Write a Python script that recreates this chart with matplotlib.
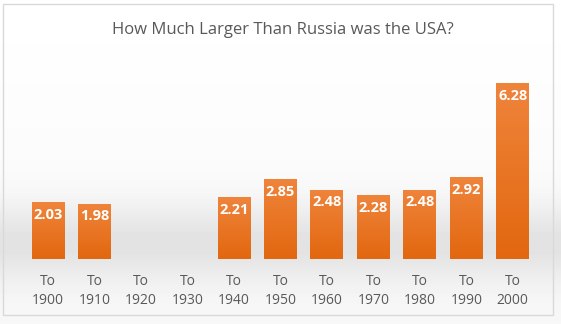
# Imports
import matplotlib.pyplot as plt
import numpy as np
from matplotlib.patches import Rectangle
from matplotlib.colors import LinearSegmentedColormap

# Data
years = ['1900', '1910', '1920', '1930', '1940', '1950', '1960', '1970', '1980', '1990', '2000']
ratios = [2.03, 1.98, None, None, 2.21, 2.85, 2.48, 2.28, 2.48, 2.92, 6.28]
labels = ['To\n' + y for y in years]

fig = plt.figure(figsize=(5.61, 3.24), dpi=100)

# Background: white with a soft gray band behind the bar bases
bg = fig.add_axes([0, 0, 1, 1], zorder=-10)
rows = np.linspace(0, 1, 324)
band = np.exp(-((rows - 0.25) / 0.12) ** 2)
shade = 1.0 - 0.09 * band - 0.03 * (1 - rows)
img = np.tile(shade[:, None], (1, 10))
bg.imshow(img, cmap='gray', vmin=0, vmax=1, aspect='auto', origin='lower', extent=[0, 1, 0, 1])
bg.set_axis_off()
fig.add_artist(Rectangle((3 / 561, 9 / 324), 550 / 561, 311 / 324, transform=fig.transFigure,
                         fill=False, edgecolor='#d9d9d9', linewidth=1))

ax = fig.add_axes([25 / 561, 65 / 324, 511 / 561, 196 / 324])
ax.patch.set_alpha(0)
x = np.arange(len(years))
vals = [v if v is not None else 0 for v in ratios]
bars = ax.bar(x, vals, width=0.71, color='#ED7D31', zorder=2)

# Gradient fill for each bar
grad = np.linspace(0, 1, 100)[:, None]
cmap = LinearSegmentedColormap.from_list('o', ['#E2670F', '#EF843B'])
for b, v in zip(bars, ratios):
    if v is None:
        continue
    im = ax.imshow(grad, cmap=cmap, aspect='auto', origin='lower',
                   extent=[b.get_x(), b.get_x() + b.get_width(), 0, v], zorder=3)
    im.set_clip_path(b)
    ax.text(b.get_x() + b.get_width() / 2, v - 0.2, f'{v:.2f}', ha='center', va='top',
            color='white', fontweight='bold', fontsize=10.5, family='Open Sans', zorder=4)

ax.set_xlim(-0.5, len(years) - 0.5)
ax.set_ylim(0, 7)
ax.set_xticks(x)
ax.set_xticklabels(labels, color='#595959', fontsize=10, family='Open Sans', linespacing=1.35)
ax.tick_params(axis='x', length=0, pad=11)
ax.set_yticks([])
for s in ['top', 'right', 'left', 'bottom']:
    ax.spines[s].set_visible(False)

fig.text(283 / 561, 1 - 30 / 324, 'How Much Larger Than Russia was the USA?', ha='center', va='center',
         color='#595959', fontsize=12, family='Open Sans')

plt.savefig('out.png', dpi=100)
